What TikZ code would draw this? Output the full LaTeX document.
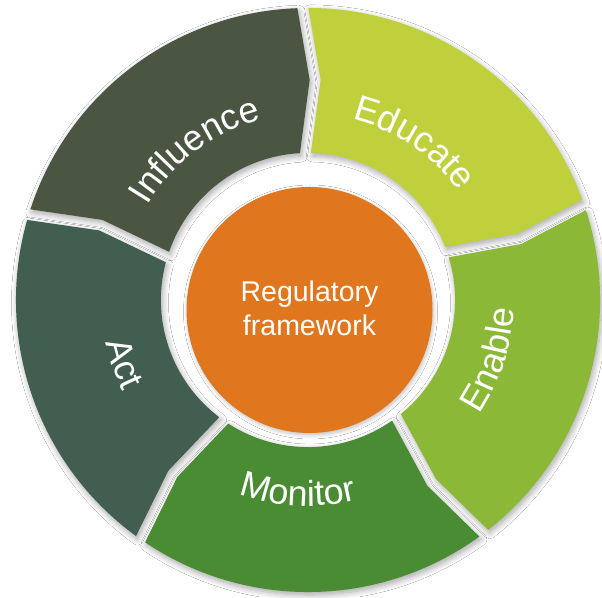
\documentclass[tikz,border=0pt]{standalone}
\usepackage{fontspec}
\setmainfont{Liberation Sans}
\usetikzlibrary{calc,decorations.text,shadows.blur}

\definecolor{influencec}{RGB}{74,86,66}
\definecolor{educatec}{RGB}{192,208,60}
\definecolor{enablec}{RGB}{139,185,55}
\definecolor{monitorc}{RGB}{74,140,52}
\definecolor{actc}{RGB}{66,94,80}
\definecolor{corec}{RGB}{224,118,30}

% ring geometry (1 unit = 1pt)
\newcommand\RingIn{147pt}
\newcommand\RingMid{220pt}
\newcommand\RingOut{292pt}
\newcommand\HalfGap{5.5pt}
\newcommand\TipFar{16.5pt}
\newcommand\TipNear{5.5pt}
\newcommand\LabelFont{\fontsize{36}{36}\selectfont}
\newcommand\CoreFont{\fontsize{28.5}{34}\selectfont}

% one ring segment between boundary angles #1 (ccw end) and #2 (cw end);
% each segment ends in a chevron pointing clockwise
\newcommand\ringpart[2]{%
  ($(C)+(#1:\RingIn)+(#1-90:\HalfGap)$)
  -- ($(C)+(#1:\RingMid)+(#1-90:\TipFar)$)
  -- ($(C)+(#1:\RingOut)+(#1-90:\HalfGap)$)
  arc[start angle=#1-1.08, end angle=#2+1.08, radius=\RingOut]
  -- ($(C)+(#2:\RingMid)+(#2-90:\TipNear)$)
  -- ($(C)+(#2:\RingIn)+(#2+90:\HalfGap)$)
  arc[start angle=#2+2.14, end angle=#1-2.14, radius=\RingIn]
  -- cycle}

% curved white label along an arc of radius #3 from angle #1 to #2
\newcommand\ringlabel[4]{%
  \path[decorate, decoration={text along path, text align=center,
      text color=white, text={|\LabelFont|#4}}]
    ($(C)+(#1:#3)$) arc[start angle=#1, end angle=#2, radius=#3];}

\tikzset{
  segshadow/.style={blur shadow={shadow xshift=1.5pt, shadow yshift=-3pt,
      shadow blur radius=6pt, shadow blur steps=8, shadow opacity=35}},
  corebox/.style={circle, fill=corec, minimum size=246pt, inner sep=0pt,
      blur shadow={shadow xshift=1pt, shadow yshift=-2pt,
      shadow blur radius=4pt, shadow blur steps=6, shadow opacity=25}},
  coretext/.style={align=center, font=\CoreFont, inner sep=0pt, text=white},
}

\begin{document}
\begin{tikzpicture}[x=1pt, y=1pt]
  \useasboundingbox (0,0) rectangle (602,597);
  \fill[white] (0,0) rectangle (602,597);
  \coordinate (C) at (308,297);

  % ring segments, clockwise from the top left
  \fill[influencec, segshadow] \ringpart{163}{91};
  \fill[educatec,   segshadow] \ringpart{91}{19};
  \fill[enablec,    segshadow] \ringpart{19}{-53};
  \fill[monitorc,   segshadow] \ringpart{-53}{-125};
  \fill[actc,       segshadow] \ringpart{235}{163};

  % segment labels
  \ringlabel{177}{77}{186pt}{Influence}
  \ringlabel{106}{6}{186pt}{Educate}
  \ringlabel{-68}{32}{206pt}{Enable}
  \ringlabel{-143}{-43}{206pt}{Monitor}
  \ringlabel{149}{249}{206pt}{Act}

  % centre
  \node[corebox] (core) at (309.5,287) {};
  \node[coretext] (coretext) at ($(core.center)+(0,2)$) {Regulatory\\framework};
\end{tikzpicture}
\end{document}
